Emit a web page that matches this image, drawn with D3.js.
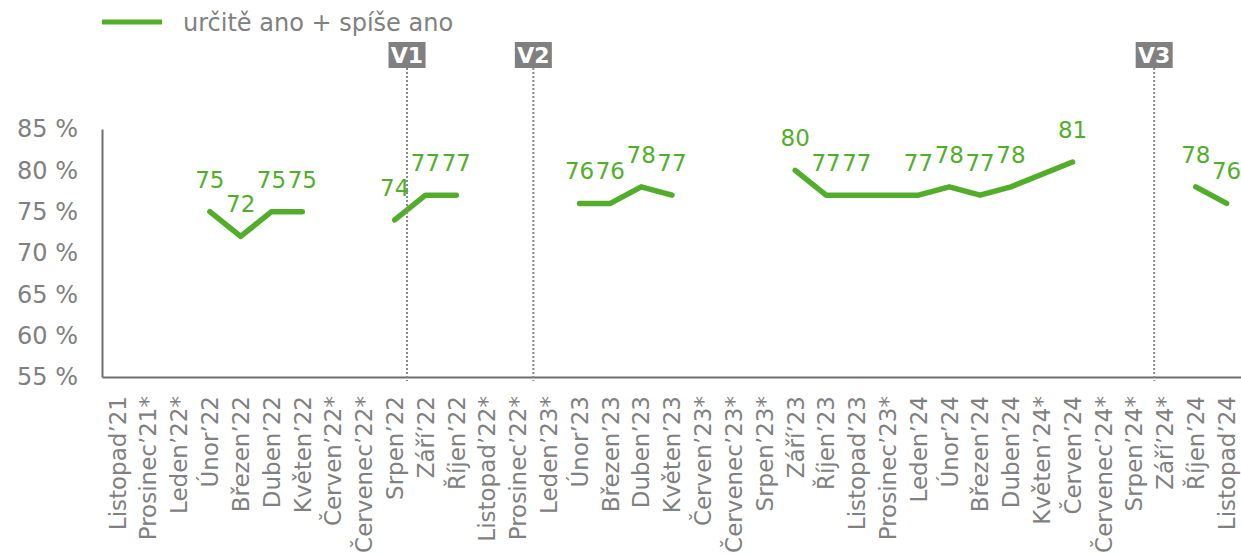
<!DOCTYPE html>
<html>
<head>
<meta charset="utf-8">
<script src="https://cdnjs.cloudflare.com/ajax/libs/d3/7.8.5/d3.min.js"></script>
<style>
  body { margin: 0; background: #fff; }
  text { font-family: "DejaVu Sans", Verdana, sans-serif; }
</style>
</head>
<body>
<div class="canvas"></div>
<script>
const categories = [
  'Listopad’21', 'Prosinec’21*', 'Leden’22*', 'Únor’22', 'Březen’22', 'Duben’22', 'Květen’22',
  'Červen’22*', 'Červenec’22*', 'Srpen’22', 'Září’22', 'Říjen’22', 'Listopad’22*', 'Prosinec’22*',
  'Leden’23*', 'Únor’23', 'Březen’23', 'Duben’23', 'Květen’23', 'Červen’23*', 'Červenec’23*',
  'Srpen’23*', 'Září’23', 'Říjen’23', 'Listopad’23', 'Prosinec’23*', 'Leden’24', 'Únor’24',
  'Březen’24', 'Duben’24', 'Květen’24*', 'Červen’24', 'Červenec’24*', 'Srpen’24*', 'Září’24*',
  'Říjen’24', 'Listopad’24'
];

// null = no survey that month
const values = [
  null, null, null, 75, 72, 75, 75,
  null, null, 74, 77, 77, null, null,
  null, 76, 76, 78, 77, null, null,
  null, 80, 77, 77, null, 77, 78,
  77, 78, null, 81, null, null, null,
  78, 76
];

// months without data that the line still runs across
const bridged = ['Prosinec’23*', 'Květen’24*'];

const yTicks = [55, 60, 65, 70, 75, 80, 85];

// wave markers, as position in category units from the left edge
const waves = [
  { name: 'V1', pos: 9.9 },
  { name: 'V2', pos: 14.0 },
  { name: 'V3', pos: 34.15 }
];

const green = '#52ae2a';
const grey = '#808080';

const svg = d3.select('.canvas')
  .append('svg')
  .attr('width', 1241)
  .attr('height', 555);

const margin = { top: 129, left: 102 };
const graphWidth = 1140;
const graphHeight = 377 - 129;

const graph = svg.append('g')
  .attr('transform', `translate(${margin.left},${margin.top})`);

const x = d3.scaleBand()
  .domain(categories)
  .range([0, graphWidth]);

const xPos = d3.scaleLinear()
  .domain([0, categories.length])
  .range([0, graphWidth]);

const y = d3.scaleLinear()
  .domain([55, 85])
  .range([graphHeight, 0]);

// axes
const yAxis = d3.axisLeft(y)
  .tickValues(yTicks)
  .tickSize(0)
  .tickPadding(24)
  .tickFormat(d => d + ' %');

const yAxisGroup = graph.append('g').call(yAxis);
yAxisGroup.select('.domain').attr('stroke', '#6e6e6e').attr('stroke-width', 2);
yAxisGroup.selectAll('text')
  .attr('fill', grey)
  .style('font-size', '24px');

const xAxis = d3.axisBottom(x).tickSize(0).tickPadding(0);
const xAxisGroup = graph.append('g')
  .attr('transform', `translate(0, ${graphHeight})`)
  .call(xAxis);
xAxisGroup.select('.domain').attr('stroke', '#6e6e6e').attr('stroke-width', 2);
xAxisGroup.selectAll('text')
  .attr('fill', grey)
  .style('font-size', '23px')
  .attr('text-anchor', 'end')
  .attr('y', 0)
  .attr('dy', '0.36em')
  .attr('transform', 'translate(0, 19) rotate(-90)');

// wave separators
const waveGroup = svg.append('g');
waves.forEach(w => {
  const wx = margin.left + xPos(w.pos);
  waveGroup.append('line')
    .attr('x1', wx).attr('x2', wx)
    .attr('y1', 68).attr('y2', 381)
    .attr('stroke', '#888')
    .attr('stroke-width', 2)
    .attr('stroke-dasharray', '2,2');
  waveGroup.append('rect')
    .attr('x', wx - 18.5)
    .attr('y', 42)
    .attr('width', 37)
    .attr('height', 26)
    .attr('fill', grey);
  waveGroup.append('text')
    .attr('x', wx)
    .attr('y', 63)
    .attr('text-anchor', 'middle')
    .attr('fill', '#fff')
    .attr('font-weight', 'bold')
    .style('font-size', '22px')
    .text(w.name);
});

// split the series into runs
const data = categories.map((c, i) => ({ cat: c, value: values[i] }));
const segments = [];
let current = [];
data.forEach(d => {
  if (d.value !== null) {
    current.push(d);
  } else if (!bridged.includes(d.cat)) {
    if (current.length) segments.push(current);
    current = [];
  }
});
if (current.length) segments.push(current);

const line = d3.line()
  .x(d => x(d.cat) + x.bandwidth() / 2)
  .y(d => y(d.value));

graph.selectAll('path.series')
  .data(segments)
  .enter()
  .append('path')
  .attr('class', 'series')
  .attr('d', line)
  .attr('fill', 'none')
  .attr('stroke', green)
  .attr('stroke-width', 5.5)
  .attr('stroke-linejoin', 'round')
  .attr('stroke-linecap', 'round');

// value labels
graph.selectAll('text.label')
  .data(data.filter(d => d.value !== null))
  .enter()
  .append('text')
  .attr('class', 'label')
  .attr('x', d => x(d.cat) + x.bandwidth() / 2)
  .attr('y', d => y(d.value) - 24)
  .attr('text-anchor', 'middle')
  .attr('fill', green)
  .style('font-size', '23px')
  .text(d => d.value);

// legend
const legend = svg.append('g');
legend.append('line')
  .attr('x1', 102).attr('x2', 162)
  .attr('y1', 22).attr('y2', 22)
  .attr('stroke', green)
  .attr('stroke-width', 5);
legend.append('text')
  .attr('x', 183)
  .attr('y', 31)
  .attr('fill', grey)
  .style('font-size', '24px')
  .text('určitě ano + spíše ano');
</script>
</body>
</html>
